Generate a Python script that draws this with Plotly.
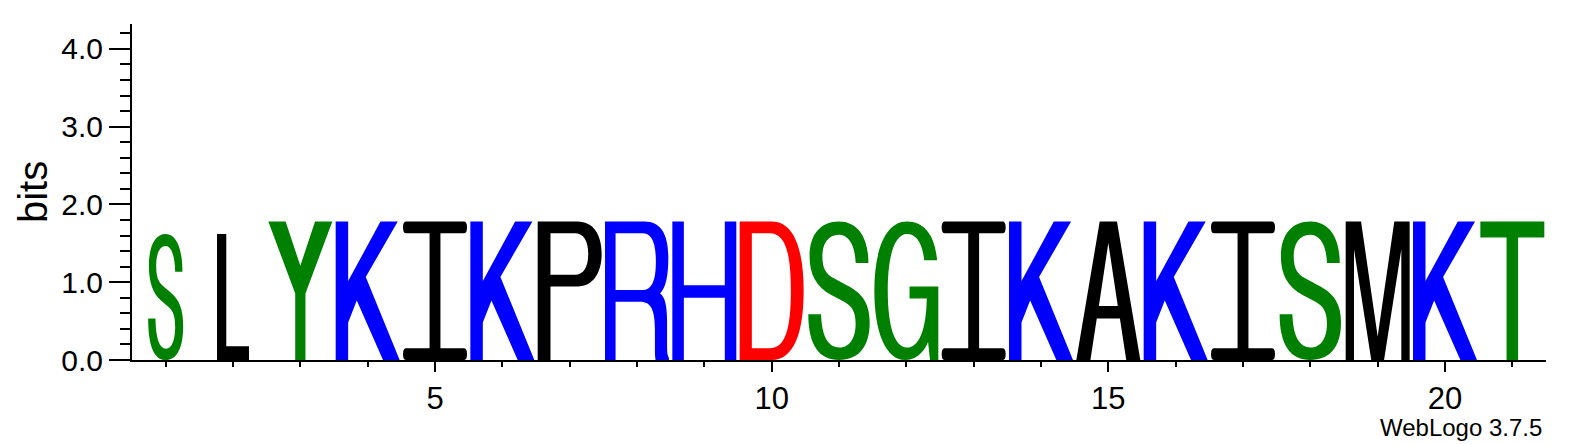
"""Sequence logo (WebLogo style) redrawn with Plotly shapes."""
import re

import plotly.graph_objects as go

# --- data -----------------------------------------------------------------
POSITIONS = list(range(1, 22))
LETTERS = ["S", "L", "Y", "K", "I", "K", "P", "R", "H", "D", "S",
           "G", "I", "K", "A", "K", "I", "S", "M", "K", "T"]
BITS = [1.62, 1.62, 1.78, 1.78, 1.78, 1.78, 1.78, 1.78, 1.78, 1.78, 1.78,
        1.78, 1.78, 1.78, 1.78, 1.78, 1.78, 1.78, 1.78, 1.78, 1.78]
# fraction of sequences with a residue in the column (stack width scaling)
OCCUPANCY = [0.57, 0.50, 1.0, 1.0, 1.0, 1.0, 1.0, 1.0, 1.0, 1.0, 1.0,
             1.0, 1.0, 1.0, 1.0, 1.0, 1.0, 1.0, 1.0, 1.0, 1.0]
Y_TICKS = [0.0, 1.0, 2.0, 3.0, 4.0]
X_TICKS = [5, 10, 15, 20]

# --- style ----------------------------------------------------------------
FONT = "Liberation Sans, Arial, Helvetica, sans-serif"
STACK_WIDTH = 0.95
CHEMISTRY = {
    "G": "#008000", "S": "#008000", "T": "#008000", "Y": "#008000", "C": "#008000",
    "K": "#0000ff", "R": "#0000ff", "H": "#0000ff",
    "D": "#ff0000", "E": "#ff0000",
}
DEFAULT_COLOR = "#000000"

# glyph outlines in a unit box (x 0..1, y 0..1, y up)
GLYPHS = {
    "S": ("M0.96,0.70 L0.76,0.70 C0.75,0.84 0.64,0.905 0.50,0.905 "
          "C0.33,0.905 0.24,0.84 0.24,0.75 C0.24,0.66 0.30,0.62 0.42,0.59 "
          "L0.62,0.54 C0.88,0.48 0.98,0.40 0.98,0.27 C0.98,0.09 0.80,0 0.50,0 "
          "C0.20,0 0.02,0.10 0.02,0.33 L0.22,0.33 C0.23,0.17 0.33,0.09 0.51,0.09 "
          "C0.68,0.09 0.76,0.17 0.76,0.26 C0.76,0.35 0.70,0.39 0.58,0.42 "
          "L0.38,0.47 C0.14,0.53 0.04,0.62 0.04,0.75 C0.04,0.91 0.22,1 0.50,1 "
          "C0.80,1 0.96,0.88 0.96,0.70 Z"),
    "L": "M0,0 L1,0 L1,0.11 L0.29,0.11 L0.29,1 L0,1 Z",
    "Y": ("M0.42,0 L0.58,0 L0.58,0.48 L1,1 L0.73,1 L0.5,0.68 L0.27,1 L0,1 "
          "L0.42,0.48 Z"),
    "K": ("M0,0 L0.195,0 L0.195,0.27 L0.33,0.43 L0.74,0 L1,0 L0.47,0.60 "
          "L0.97,1 L0.70,1 L0.195,0.57 L0.195,1 L0,1 Z"),
    "I": ("M0.05,0 L0.95,0 Q1,0 1,0.04 L1,0.045 Q1,0.085 0.95,0.085 "
          "L0.585,0.085 L0.585,0.915 L0.95,0.915 Q1,0.915 1,0.955 L1,0.96 "
          "Q1,1 0.95,1 L0.05,1 Q0,1 0,0.96 L0,0.955 Q0,0.915 0.05,0.915 "
          "L0.415,0.915 L0.415,0.085 L0.05,0.085 Q0,0.085 0,0.045 L0,0.04 "
          "Q0,0 0.05,0 Z"),
    "P": ("M0,0 L0.2,0 L0.2,0.53 L0.62,0.53 C0.88,0.53 1,0.64 1,0.765 "
          "C1,0.90 0.88,1 0.62,1 L0,1 Z "
          "M0.2,0.615 L0.2,0.915 L0.58,0.915 C0.72,0.915 0.79,0.86 0.79,0.765 "
          "C0.79,0.67 0.72,0.615 0.58,0.615 Z"),
    "R": ("M0,0 L0.165,0 L0.165,0.42 L0.55,0.42 C0.72,0.42 0.78,0.36 0.78,0.22 "
          "L0.78,0.07 C0.78,0.035 0.785,0.015 0.79,0 L1,0 L1,0.015 "
          "C0.975,0.03 0.97,0.06 0.97,0.10 L0.97,0.28 C0.97,0.40 0.93,0.46 0.86,0.48 "
          "C0.95,0.52 0.99,0.61 0.99,0.74 C0.99,0.91 0.87,1 0.62,1 L0,1 Z "
          "M0.165,0.505 L0.165,0.915 L0.58,0.915 C0.73,0.915 0.795,0.85 0.795,0.71 "
          "C0.795,0.57 0.73,0.505 0.58,0.505 Z"),
    "H": ("M0,0 L0.18,0 L0.18,0.45 L0.82,0.45 L0.82,0 L1,0 L1,1 L0.82,1 "
          "L0.82,0.54 L0.18,0.54 L0.18,1 L0,1 Z"),
    "D": ("M0,0 L0.5,0 C0.85,0 1,0.2 1,0.5 C1,0.8 0.85,1 0.5,1 L0,1 Z "
          "M0.19,0.085 L0.19,0.915 L0.47,0.915 C0.71,0.915 0.80,0.78 0.80,0.5 "
          "C0.80,0.22 0.71,0.085 0.47,0.085 Z"),
    "G": ("M1,0 L1,0.53 L0.55,0.53 L0.55,0.445 L0.82,0.445 "
          "C0.81,0.22 0.70,0.09 0.51,0.09 C0.32,0.09 0.21,0.24 0.21,0.5 "
          "C0.21,0.76 0.32,0.91 0.51,0.91 C0.65,0.91 0.75,0.85 0.78,0.72 "
          "L0.98,0.72 C0.95,0.90 0.78,1 0.51,1 C0.18,1 0,0.8 0,0.5 "
          "C0,0.2 0.18,0 0.48,0 C0.64,0 0.77,0.05 0.84,0.13 L0.87,0 Z"),
    "A": ("M0,0 L0.22,0 L0.319,0.30 L0.681,0.30 L0.78,0 L1,0 L0.635,1 "
          "L0.365,1 Z M0.352,0.39 L0.648,0.39 L0.5,0.845 Z"),
    "M": ("M0,0 L0.13,0 L0.13,0.80 L0.40,0 L0.60,0 L0.87,0.80 L0.87,0 L1,0 "
          "L1,1 L0.76,1 L0.5,0.17 L0.24,1 L0,1 Z"),
    "T": ("M0.41,0 L0.59,0 L0.59,0.885 L1,0.885 L1,1 L0,1 L0,0.885 "
          "L0.41,0.885 Z"),
}

_PAIR = re.compile(r"(-?[\d.]+),(-?[\d.]+)")


def place_glyph(path, x0, width, height):
    """Map a unit-box glyph outline onto data coordinates."""
    def sub(m):
        u, v = float(m.group(1)), float(m.group(2))
        return f"{x0 + u * width:.5f},{v * height:.5f}"
    return _PAIR.sub(sub, path)


shapes = []
for pos, letter, bits, occ in zip(POSITIONS, LETTERS, BITS, OCCUPANCY):
    w = STACK_WIDTH * occ
    shapes.append(dict(
        type="path",
        xref="x", yref="y",
        path=place_glyph(GLYPHS[letter], pos - w / 2, w, bits),
        fillcolor=CHEMISTRY.get(letter, DEFAULT_COLOR),
        fillrule="evenodd",
        line=dict(width=0),
        layer="above",
    ))

# invisible markers so each stack still carries hover info
fig = go.Figure(go.Scatter(
    x=POSITIONS, y=BITS,
    mode="markers",
    marker=dict(size=1, opacity=0),
    customdata=LETTERS,
    hovertemplate="pos %{x}: %{customdata}<br>%{y:.2f} bits<extra></extra>",
    showlegend=False,
))

axis_common = dict(
    showgrid=False, zeroline=False,
    showline=True, linecolor="black", linewidth=2,
    ticks="outside", tickcolor="black", tickwidth=2,
    fixedrange=True,
)

fig.update_layout(
    width=1570, height=444,
    margin=dict(l=132, r=24, t=24, b=84),
    paper_bgcolor="white", plot_bgcolor="white",
    font=dict(family=FONT, color="black"),
    shapes=shapes,
    xaxis=dict(
        **axis_common,
        range=[0.5, 21.5],
        tickvals=X_TICKS,
        ticklen=10,
        tickfont=dict(size=31),
        minor=dict(dtick=1, tick0=0, ticks="outside", ticklen=5,
                   tickcolor="black", tickwidth=2),
    ),
    yaxis=dict(
        **axis_common,
        range=[0, 4.32],
        tickvals=Y_TICKS,
        tickformat=".1f",
        ticklen=21,
        tickfont=dict(size=30),
        minor=dict(dtick=0.2, tick0=0, ticks="outside", ticklen=10,
                   tickcolor="black", tickwidth=2),
    ),
    annotations=[
        dict(text="bits", xref="paper", yref="paper", x=-0.07, y=0.5,
             xanchor="center", yanchor="middle", textangle=-90,
             showarrow=False, font=dict(size=40)),
        dict(text="WebLogo 3.7.5", xref="paper", yref="paper", x=0.9986,
             y=-0.2, xanchor="right", yanchor="middle",
             showarrow=False, font=dict(size=24)),
    ],
)

# the page body carries a default 8px margin; drop it so the figure sits at 0,0
fig.write_html(
    "out.html",
    config={"displayModeBar": False},
    post_script="document.body.style.margin='0';",
)
